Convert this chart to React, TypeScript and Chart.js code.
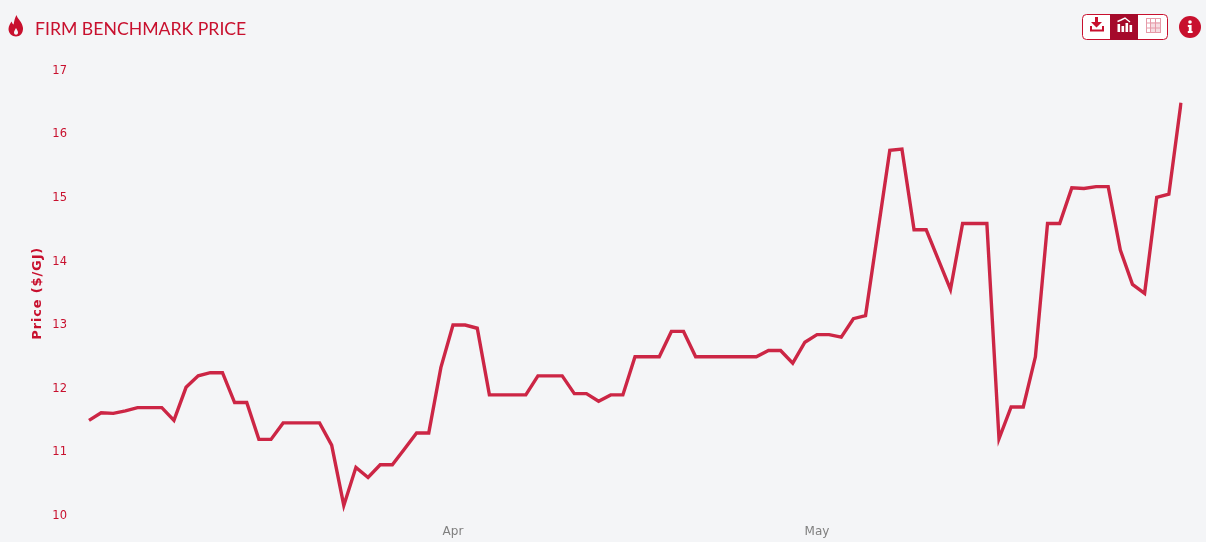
import React, { useEffect, useRef } from "react";
import { Chart, registerables } from "chart.js";

Chart.register(...registerables);

const TITLE = "FIRM BENCHMARK PRICE";
const Y_TITLE = "Price ($/GJ)";
const START_DAY = "2022-03-02";
const MONTH_TICKS: Record<number, string> = { 30: "Apr", 60: "May" };
const prices = [
  11.5, 11.62, 11.61, 11.65, 11.7, 11.7, 11.7, 11.5, 12.02, 12.2, 12.25, 12.25, 11.78, 11.78, 11.2, 11.2,
  11.46, 11.46, 11.46, 11.46, 11.11, 10.16, 10.76, 10.6, 10.8, 10.8, 11.05, 11.3, 11.3, 12.33, 13.0, 13.0,
  12.95, 11.9, 11.9, 11.9, 11.9, 12.2, 12.2, 12.2, 11.92, 11.92, 11.8, 11.9, 11.9, 12.5, 12.5, 12.5,
  12.9, 12.9, 12.5, 12.5, 12.5, 12.5, 12.5, 12.5, 12.6, 12.6, 12.4, 12.73, 12.85, 12.85, 12.81, 13.1,
  13.15, 14.45, 15.75, 15.77, 14.5, 14.5, 14.03, 13.56, 14.6, 14.6, 14.6, 11.21, 11.71, 11.71, 12.5, 14.6,
  14.6, 15.16, 15.15, 15.18, 15.18, 14.18, 13.64, 13.5, 15.01, 15.06, 16.5,
];
const days = prices.map((_, i) => {
  const d = new Date(START_DAY + "T00:00:00Z");
  d.setUTCDate(d.getUTCDate() + i);
  return d.toISOString().slice(0, 10);
});

const RED = "#c8102e";
const LINE = "#cc2645";
const DARK = "#a50a2b";
const BG = "#f4f5f7";

function Icons() {
  return (
    <>
      <svg width="18" height="24" viewBox="0 0 18 24" style={{ position: "absolute", left: 7, top: 14 }}>
        <path
          fill={RED}
          fillRule="evenodd"
          d="M9.5 1 C10.5 5 15.5 8 16 14 C16.3 19 13 22.5 9 22.5 C5 22.5 1.5 19.5 1.5 15 C1.5 11.5 3.5 9.5 4.5 7.5 C5.2 9 5.6 10 6.6 10.6 C7.2 7 7.8 4 9.5 1 Z M9 14 C8 16 7 17 7 18.6 C7 20 8 20.8 9 20.8 C10 20.8 11 20 11 18.6 C11 17 10 16 9 14 Z"
        />
      </svg>
      <div
        style={{
          position: "absolute",
          left: 35,
          top: 18,
          fontFamily: "Lato, sans-serif",
          fontSize: 17.65,
          lineHeight: "22px",
          color: RED,
          whiteSpace: "nowrap",
        }}
      >
        {TITLE}
      </div>
      <svg width="124" height="30" viewBox="0 0 124 30" style={{ position: "absolute", left: 1082, top: 13 }}>
        <rect x="0.5" y="1.5" width="85" height="25" rx="4" fill="#fff" stroke={RED} />
        <rect x="28" y="1" width="28" height="26" fill={DARK} />
        <path d="M13 4 H16 V9 H20 L14.5 14.5 L9 9 H13 Z" fill={RED} />
        <path d="M8 13 V18.5 H22 V13 H20 V16.5 H10 V13 Z" fill={RED} />
        <g fill="#fff">
          <rect x="35.5" y="11" width="2.6" height="8" />
          <rect x="39.5" y="13" width="2.6" height="6" />
          <rect x="43.5" y="10" width="2.6" height="9" />
          <rect x="47.5" y="12" width="2.6" height="7" />
        </g>
        <path d="M35.5 8.5 L39 7 L43 5 L48 9" stroke="#fff" strokeWidth="1.4" fill="none" />
        <g stroke="#e69aa8" strokeWidth="1" fill="none">
          <rect x="64.5" y="5.5" width="14" height="14" />
          <path d="M68.5 5.5 V19.5 M73.5 5.5 V19.5 M64.5 10 H78.5 M64.5 15 H78.5" />
        </g>
        <rect x="68" y="9" width="11" height="11" fill="#e69aa8" fillOpacity="0.35" />
        <circle cx="108" cy="14" r="11" fill={RED} />
        <circle cx="108" cy="9" r="1.8" fill="#fff" />
        <path d="M105.8 12 H109.6 V18 H110.6 V20 H105.8 V18 H106.8 V14 H105.8 Z" fill="#fff" />
      </svg>
    </>
  );
}

export default function App() {
  const ref = useRef<HTMLCanvasElement>(null);
  useEffect(() => {
    document.body.style.margin = "0";
    const chart = new Chart(ref.current!, {
      type: "line",
      data: {
        labels: days,
        datasets: [
          {
            data: prices,
            borderColor: LINE,
            borderWidth: 3.4,
            pointRadius: 0,
            tension: 0,
            fill: false,
            borderJoinStyle: "miter",
          },
        ],
      },
      options: {
        animation: false,
        responsive: false,
        layout: { padding: { left: 0, right: 25, top: 71, bottom: 0 } },
        plugins: { legend: { display: false }, tooltip: { enabled: false } },
        scales: {
          x: {
            type: "category",
            grid: { display: false, drawTicks: false },
            border: { display: false },
            ticks: {
              autoSkip: false,
              maxRotation: 0,
              padding: 9,
              color: "#7f7f7f",
              font: { family: "DejaVu Sans", size: 12 },
              callback: (_v: any, i: number) => MONTH_TICKS[i] ?? "",
            },
          },
          y: {
            min: 10,
            max: 17,
            afterFit: (s: any) => {
              s.width = 89;
            },
            afterUpdate: (s: any) => {
              if (s.__spaced) return;
              s.__spaced = true;
              const draw = s.drawTitle;
              s.drawTitle = function (...args: any[]) {
                s.ctx.letterSpacing = "0.85px";
                draw.apply(s, args);
                s.ctx.letterSpacing = "0px";
              };
            },
            grid: { display: false, drawTicks: false },
            border: { display: false },
            title: {
              display: true,
              text: Y_TITLE,
              color: RED,
              font: { family: "DejaVu Sans", size: 13, weight: "bold" },
              padding: { top: 30, bottom: 0 },
            },
            ticks: {
              stepSize: 1,
              padding: 22,
              color: RED,
              font: { family: "DejaVu Sans", size: 11.5 },
            },
          },
        },
      },
    });
    return () => chart.destroy();
  }, []);
  return (
    <div style={{ position: "relative", width: 1206, height: 542, background: BG, overflow: "hidden" }}>
      <canvas ref={ref} width={1206} height={548} style={{ position: "absolute", left: 0, top: 0, display: "block" }} />
      <Icons />
    </div>
  );
}
